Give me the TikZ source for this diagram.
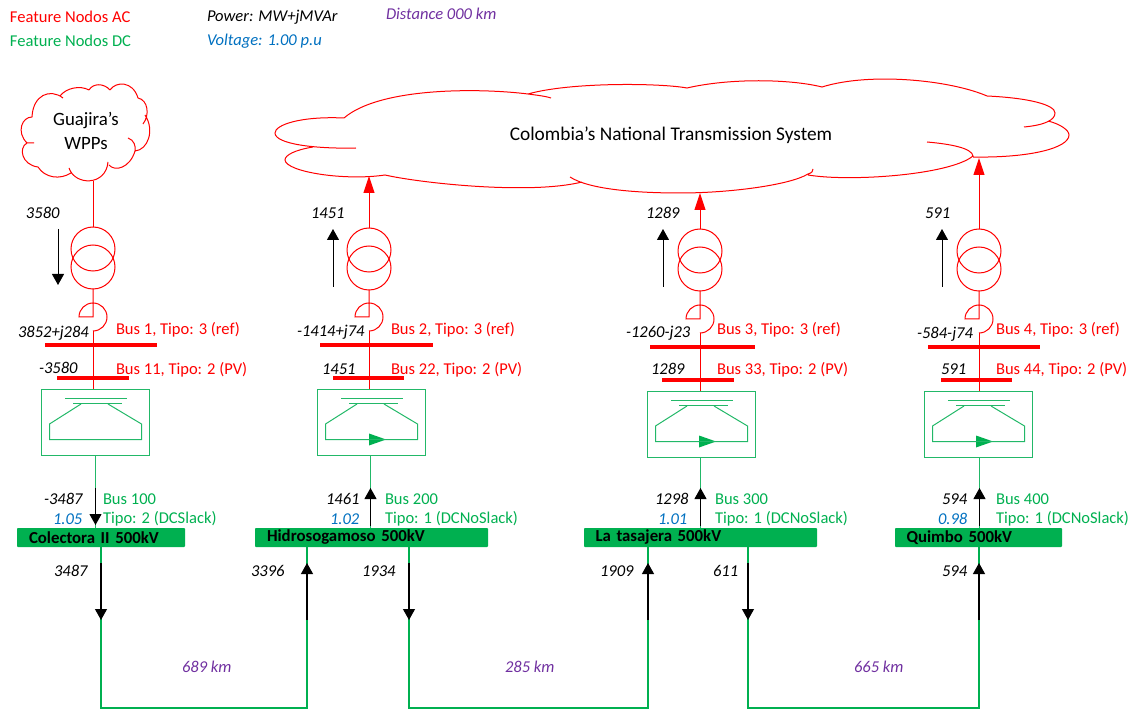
\documentclass[tikz,border=0pt]{standalone}
\usepackage{fontspec}
\setmainfont{Carlito}
\usetikzlibrary{arrows.meta}
\definecolor{acred}{HTML}{FF0000}
\definecolor{dcgreen}{HTML}{00B050}
\definecolor{boxgreen}{HTML}{22B868}
\definecolor{vblue}{HTML}{0070C0}
\definecolor{kmpurple}{HTML}{7030A0}
\tikzset{
  x=0.75pt,y=-0.75pt,
  every node/.style={inner sep=0pt,outer sep=0pt},
  lab/.style={font=\fontsize{12.4}{14}\selectfont,anchor=west,yshift=-0.6pt},
  acl/.style={lab,text=acred},
  dcl/.style={lab,text=dcgreen},
  val/.style={lab,font=\fontsize{12.4}{14}\selectfont\itshape,text=black},
  vol/.style={lab,font=\fontsize{12.4}{14}\selectfont\itshape,text=vblue},
  kml/.style={lab,font=\fontsize{12.4}{14}\selectfont\itshape,text=kmpurple},
  acwire/.style={draw=acred,line width=0.75pt},
  dcwire/.style={draw=boxgreen,line width=0.75pt},
  link/.style={draw=dcgreen,line width=1.2pt},
  coil/.style={draw=acred,line width=0.75pt,circle,minimum size=33pt},
  acbus/.style={fill=acred,minimum height=3pt},
  dcbus/.style={fill=dcgreen,rounded corners=0.6pt,minimum height=14.25pt,font=\fontsize{12.6}{14}\selectfont\bfseries,text=black},
  conv/.style={draw=boxgreen,line width=0.75pt,fill=none},
  flow/.style={draw=black,line width=0.75pt,-{Triangle[length=8.25pt,width=9pt]}},
  feed/.style={draw=acred,line width=0.75pt,-{Triangle[length=12.75pt,width=8.25pt]}},
  linkflow/.style={draw=black,line width=0.9pt,-{Triangle[length=8.25pt,width=9pt]}},
}
% #1 name, #2 axis x, #3 y shift, #4 box left, #5 upper trafo coil y, #6 converter arrow(1/0)
\newcommand{\station}[6]{%
  \node[coil] (#1up) at (#2,#5) {};
  \node[coil] (#1lo) at (#2,#5+18) {};
  \coordinate (#1hook) at (#2,317+#3);
  \coordinate (#1hookend) at (#2,331+#3);
  \draw[acwire] (#1lo.south) -- (#1hook) -- ++(-14,0) arc[start angle=180,end angle=-90,radius=10.5pt];
  \node[conv,minimum width=81pt,minimum height=49.5pt] (#1box) at (#4+54.5,422.5+#3) {};
  \draw[acwire] (#1hookend) -- (#1hookend |- #1box.north);
  \coordinate (#1b1a) at (#4+24,398.5+#3); \coordinate (#1b1b) at (#4+86,398.5+#3);
  \coordinate (#1b2a) at (#4+32,403.5+#3); \coordinate (#1b2b) at (#4+81,403.5+#3);
  \draw[conv] (#1b1a) -- (#1b1b);
  \draw[conv] (#1b2a) -- (#1b2b);
  \draw[conv] (#4+40,404+#3) -- (#4+8.5,424+#3) -- (#4+8.5,439.5+#3) -- (#4+100.5,439.5+#3) -- (#4+100.5,424+#3) -- (#4+67,404+#3);
  \ifnum#6=1
    \fill[dcgreen] (#4+52,433.5+#3) -- (#4+69,439.5+#3) -- (#4+52,445.5+#3) -- cycle;
    \draw[conv] (#4+36,439.5+#3) -- (#4+69,439.5+#3);
  \fi
}
\begin{document}
\begin{tikzpicture}
\useasboundingbox (0,0) rectangle (1136,709);

% legend
\node[acl] (legac) at (10,16) {Feature Nodos AC};
\node[dcl] (legdc) at (10,40) {Feature Nodos DC};
\node[val] (legp) at (207,16) {Power: MW+jMVAr};
\node[vol] (legv) at (207,40) {Voltage: 1.00 p.u};
\node[kml] (legd) at (386,13) {Distance 000 km};

% small cloud
\draw[acwire]
  (32,117) .. controls (33,95) and (50,88) .. (63,98)
  (60,96) .. controls (66,88) and (80,85) .. (89,90)
  (89,90) .. controls (93,83) and (104,83) .. (110,90)
  (110,90) .. controls (116,81) and (133,81) .. (138,98)
  (138,98) .. controls (148,100) and (150,115) .. (143,124)
  (145,115) .. controls (155,130) and (148,150) .. (135,151)
  (128,138) .. controls (134,140) and (136,146) .. (135,151)
  (135,151) .. controls (130,168) and (115,172) .. (109,165)
  (108,162) .. controls (106,186) and (75,186) .. (69,168)
  (71,173) .. controls (60,180) and (45,178) .. (38,167)
  (38,167) .. controls (22,165) and (18,148) .. (27,143)
  (27,143) -- (34,143)
  (27,143) .. controls (16,132) and (22,117) .. (32,117);
\node[font=\fontsize{14.1}{16}\selectfont,align=center] (wpp) at (86,131) {Guajira’s\\[2pt]WPPs};
\coordinate (wppout) at (93,181);

% large cloud
\draw[acwire]
  (344,118) .. controls (300,116) and (275,125) .. (275,133)
  .. controls (275,144) and (315,149) .. (356,148)
  (313,147) .. controls (295,150) and (285,155) .. (285,160)
  .. controls (286,172) and (345,181) .. (385,175)
  .. controls (420,183) and (530,195) .. (582,182)
  (570,177) .. controls (590,190) and (640,193) .. (680,193)
  .. controls (730,193) and (790,185) .. (808,174)
  .. controls (812,173) and (813,171) .. (813,169)
  (808,175) .. controls (850,182) and (950,175) .. (973,156)
  .. controls (972,148) and (950,144) .. (927,142)
  (973,157) .. controls (1030,158) and (1069,148) .. (1069,135)
  .. controls (1069,130) and (1060,124) .. (1048,121)
  (1024,127) .. controls (1045,125) and (1055,120) .. (1055,113)
  .. controls (1055,105) and (1030,98) .. (987,96)
  .. controls (950,80) and (870,72) .. (822,87)
  .. controls (790,79) and (730,78) .. (687,88)
  .. controls (660,83) and (570,82) .. (528,94)
  .. controls (535,95) and (545,96) .. (551,98)
  (528,94) .. controls (480,88) and (380,87) .. (344,118);
\node[font=\fontsize{14.5}{16}\selectfont] (nts) at (671,135) {Colombia’s  National Transmission System};
\coordinate (ntsa) at (369,176);
\coordinate (ntsb) at (700,193);
\coordinate (ntsc) at (979,158);

% stations
\station{a}{93}{0}{41}{249}{0}
\station{b}{369}{0}{317}{250}{1}
\station{c}{700}{2}{647}{251}{1}
\station{d}{979}{2}{924}{251}{1}

% AC buses
\node[acbus,minimum width=84pt] (bus1) at (101,345) {};
\node[acbus,minimum width=54pt] (bus11) at (93,378) {};
\node[acbus,minimum width=84.75pt] (bus2) at (376.5,345) {};
\node[acbus,minimum width=53.25pt] (bus22) at (368.5,378) {};
\node[acbus,minimum width=78.75pt] (bus3) at (702.5,347) {};
\node[acbus,minimum width=54pt] (bus33) at (698,380) {};
\node[acbus,minimum width=84pt] (bus4) at (984,347) {};
\node[acbus,minimum width=53.25pt] (bus44) at (976.5,380) {};

% DC buses
\node[dcbus,minimum width=126pt,text width=108pt,align=left] (dca) at (101,537.5) {Colectora II 500kV};
\node[dcbus,minimum width=174.75pt,text width=156.75pt,align=left] (dcb) at (371.5,537.5) {Hidrosogamoso 500kV};
\node[dcbus,minimum width=174.75pt,text width=157.5pt,align=left] (dcc) at (700.5,537.5) {La tasajera 500kV};
\node[dcbus,minimum width=125.25pt,text width=108pt,align=left] (dcd) at (978.5,537.5) {Quimbo 500kV};

% AC feeders
\draw[acwire] (wppout) -- (aup.north);
\draw[feed] (bup.north) -- (ntsa);
\draw[feed] (cup.north) -- (ntsb);
\draw[feed] (dup.north) -- (ntsc);

% converter to DC bus
\draw[dcwire] (95.5,455) -- (95.5,528);
\draw[dcwire] (370.5,455) -- (370.5,528);
\draw[dcwire] (700.5,457) -- (700.5,528);
\draw[dcwire] (979.5,457) -- (979.5,528);

% DC links
\coordinate (la1) at (101,547); \coordinate (la2) at (101,708); \coordinate (la3) at (307,708); \coordinate (la4) at (307,547);
\coordinate (lb1) at (409,547); \coordinate (lb2) at (409,708); \coordinate (lb3) at (648,708); \coordinate (lb4) at (648,547);
\coordinate (lc1) at (748,547); \coordinate (lc2) at (748,708); \coordinate (lc3) at (979,708); \coordinate (lc4) at (979,547);
\draw[link] (la1) -- (la2) -- (la3) -- (la4);
\draw[link] (lb1) -- (lb2) -- (lb3) -- (lb4);
\draw[link] (lc1) -- (lc2) -- (lc3) -- (lc4);

% flow arrows
\coordinate (fa0) at (58,229); \coordinate (fa1) at (58,285);
\draw[flow] (fa0) -- (fa1);
\coordinate (fb0) at (333,287); \coordinate (fb1) at (333,229);
\draw[flow] (fb0) -- (fb1);
\coordinate (fc0) at (663,287); \coordinate (fc1) at (663,229);
\draw[flow] (fc0) -- (fc1);
\coordinate (fd0) at (942,287); \coordinate (fd1) at (942,229);
\draw[flow] (fd0) -- (fd1);

\coordinate (ga0) at (95.5,488); \coordinate (ga1) at (95.5,525);
\draw[flow] (ga0) -- (ga1);
\coordinate (gb0) at (370.5,526); \coordinate (gb1) at (370.5,488);
\draw[flow] (gb0) -- (gb1);
\coordinate (gc0) at (700.5,526); \coordinate (gc1) at (700.5,488);
\draw[flow] (gc0) -- (gc1);
\coordinate (gd0) at (979.5,526); \coordinate (gd1) at (979.5,488);
\draw[flow] (gd0) -- (gd1);

\coordinate (ha0) at (101,563); \coordinate (ha1) at (101,620);
\draw[linkflow] (ha0) -- (ha1);
\coordinate (hb0) at (307,620); \coordinate (hb1) at (307,563);
\draw[linkflow] (hb0) -- (hb1);
\coordinate (hc0) at (409,563); \coordinate (hc1) at (409,620);
\draw[linkflow] (hc0) -- (hc1);
\coordinate (hd0) at (648,620); \coordinate (hd1) at (648,563);
\draw[linkflow] (hd0) -- (hd1);
\coordinate (he0) at (748,563); \coordinate (he1) at (748,620);
\draw[linkflow] (he0) -- (he1);
\coordinate (hf0) at (979,620); \coordinate (hf1) at (979,563);
\draw[linkflow] (hf0) -- (hf1);

% values
\node[val] (v1) at (26,212) {3580};
\node[val] (v2) at (311,212) {1451};
\node[val] (v3) at (646,212) {1289};
\node[val] (v4) at (925,212) {591};
\node[val] (p1) at (18,332) {3852+j284};
\node[val] (p2) at (297,331) {-1414+j74};
\node[val] (p3) at (626,332) {-1260-j23};
\node[val] (p4) at (917,333) {-584-j74};
\node[val] (q1) at (39,367) {-3580};
\node[val] (q2) at (322,368) {1451};
\node[val] (q3) at (651,368) {1289};
\node[val] (q4) at (941,368) {591};
\node[val] (r1) at (44,498) {-3487};
\node[val] (r2) at (326,498) {1461};
\node[val] (r3) at (655,498) {1298};
\node[val] (r4) at (942,498) {594};
\node[vol] (u1) at (53,518) {1.05};
\node[vol] (u2) at (330,518) {1.02};
\node[vol] (u3) at (658,518) {1.01};
\node[vol] (u4) at (938,518) {0.98};
\node[val] (s1) at (54,570) {3487};
\node[val] (s2) at (251,570) {3396};
\node[val] (s3) at (362,570) {1934};
\node[val] (s4) at (600,570) {1909};
\node[val] (s5) at (713,570) {611};
\node[val] (s6) at (942,570) {594};
\node[kml] (k1) at (182,666) {689 km};
\node[kml] (k2) at (505,666) {285 km};
\node[kml] (k3) at (854,666) {665 km};

% bus labels
\node[acl] (t1) at (116,329) {Bus 1, Tipo: 3 (ref)};
\node[acl] (t11) at (116,369) {Bus 11, Tipo: 2 (PV)};
\node[acl] (t2) at (391,329) {Bus 2, Tipo: 3 (ref)};
\node[acl] (t22) at (391,369) {Bus 22, Tipo: 2 (PV)};
\node[acl] (t3) at (717,329) {Bus 3, Tipo: 3 (ref)};
\node[acl] (t33) at (717,369) {Bus 33, Tipo: 2 (PV)};
\node[acl] (t4) at (996,329) {Bus 4, Tipo: 3 (ref)};
\node[acl] (t44) at (996,369) {Bus 44, Tipo: 2 (PV)};
\node[dcl] (d1) at (103,498) {Bus 100};
\node[dcl] (d1b) at (103,518) {Tipo: 2 (DCSlack)};
\node[dcl] (d2) at (385,498) {Bus 200};
\node[dcl] (d2b) at (385,518) {Tipo: 1 (DCNoSlack)};
\node[dcl] (d3) at (715,498) {Bus 300};
\node[dcl] (d3b) at (715,518) {Tipo: 1 (DCNoSlack)};
\node[dcl] (d4) at (996,498) {Bus 400};
\node[dcl] (d4b) at (996,518) {Tipo: 1 (DCNoSlack)};
\end{tikzpicture}
\end{document}
